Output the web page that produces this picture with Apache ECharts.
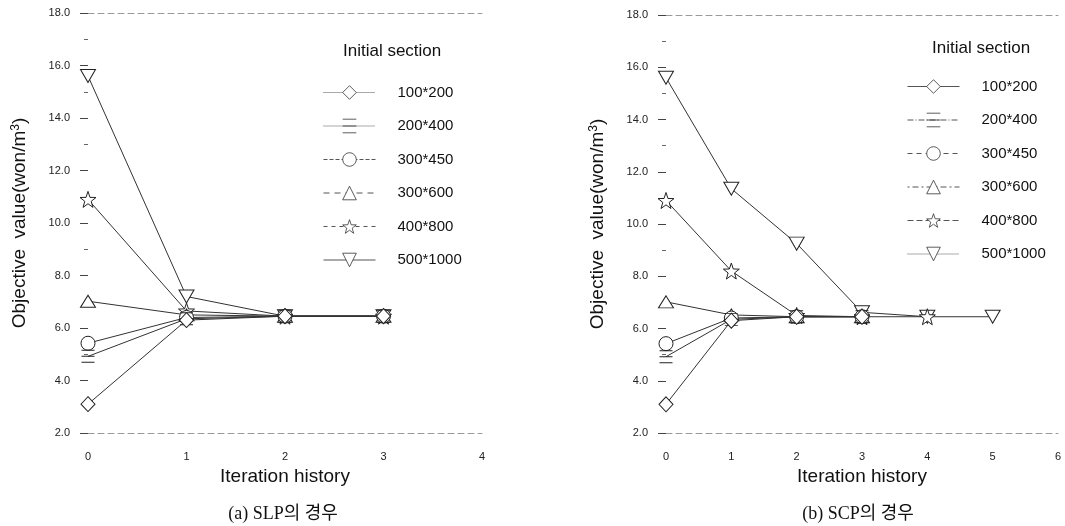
<!DOCTYPE html>
<html>
<head>
<meta charset="utf-8">
<script src="https://cdn.jsdelivr.net/npm/echarts@6/dist/echarts.min.js"></script>
<style>
  html, body { margin: 0; padding: 0; background: #fff; }
  #main { width: 1065px; height: 526px; }
</style>
</head>
<body>
<div id="main"></div>
<script>
// data
var sections = ['100*200', '200*400', '300*450', '300*600', '400*800', '500*1000'];
var yTicks = [2, 4, 6, 8, 10, 12, 14, 16, 18];

// (a) SLP, objective value per iteration
var slp100x200 = [3.1, 6.3, 6.45, 6.45];
var slp200x400 = [4.92, 6.35, 6.45, 6.45];
var slp300x450 = [5.42, 6.4, 6.45, 6.45];
var slp300x600 = [7.02, 6.5, 6.45, 6.45];
var slp400x800 = [10.9, 6.65, 6.45, 6.45];
var slp500x1000 = [15.6, 7.2, 6.45, 6.45];

// (b) SCP
var scp100x200 = [3.1, 6.3, 6.45, 6.45];
var scp200x400 = [4.92, 6.35, 6.45, 6.45];
var scp300x450 = [5.42, 6.4, 6.45, 6.45];
var scp300x600 = [7.02, 6.52, 6.45, 6.45];
var scp400x800 = [10.9, 8.2, 6.5, 6.45, 6.45];
var scp500x1000 = [15.6, 11.35, 9.25, 6.62, 6.45, 6.45];

var slpData = [slp100x200, slp200x400, slp300x450, slp300x600, slp400x800, slp500x1000];
var scpData = [scp100x200, scp200x400, scp300x450, scp300x600, scp400x800, scp500x1000];

(function(){
  var myChart = echarts.init(document.getElementById('main'));

  var starPath = 'path://M50,0 L61.8,33.8 L97.6,34.5 L69,56.2 L79.4,90.5 L50,70 L20.6,90.5 L31,56.2 L2.4,34.5 L38.2,33.8 Z';
  var markers = [
    {symbol: 'diamond', size: [14, 15]},
    {symbol: 'path://M0,0 L10,0 M0,5 L10,5 M0,10 L10,10', size: [13, 12]},
    {symbol: 'circle', size: 14},
    {symbol: 'triangle', size: [15, 12]},
    {symbol: starPath, size: 16},
    {symbol: 'path://M0,0 L10,0 L5,9 Z', size: [15, 13]}
  ];
  // line styles seen in the legends
  var legendLinesA = ['dotted', 'dotted', 'dashed', [6, 5], [4, 4], 'solid'];
  var legendLinesB = ['solid', [6, 2, 1, 2], [5, 4], [2, 3, 6, 3], [6, 3], 'dotted'];

  var axisFont = 'Liberation Sans, Arial, sans-serif';

  function makeSeries(data, xIdx, yIdx) {
    return data.map(function(vals, i){
      return {
        name: sections[i],
        type: 'line',
        xAxisIndex: xIdx,
        yAxisIndex: yIdx,
        data: vals.map(function(v, k){ return [k, v]; }),
        symbol: markers[i].symbol,
        symbolSize: markers[i].size,
        showAllSymbol: true,
        lineStyle: {color: '#333', width: 1},
        itemStyle: {color: '#fff', borderColor: '#222', borderWidth: 1},
        emphasis: {disabled: true},
        z: 10 - i
      };
    });
  }

  function makeLegend(left, top, types) {
    return {
      orient: 'vertical',
      left: left,
      top: top,
      itemWidth: 52,
      itemHeight: 17,
      itemGap: 18.5,
      selectedMode: false,
      textStyle: {fontSize: 15, color: '#111', fontFamily: axisFont, padding: [0, 0, 0, 17]},
      data: sections.map(function(s, i){
        return {
          name: s,
          lineStyle: {type: types[i], color: '#555', width: 1},
          itemStyle: {color: '#fff', borderColor: '#333', borderWidth: 0.8}
        };
      })
    };
  }

  function yAxisOf(gridIndex) {
    return {
      type: 'value',
      gridIndex: gridIndex,
      min: 2,
      max: 18,
      interval: 2,
      name: 'Objective  value(won/m{sup|3})',
      nameLocation: 'middle',
      nameGap: 58,
      nameTextStyle: {
        fontSize: 19, color: '#111', fontFamily: axisFont,
        rich: {sup: {fontSize: 12, verticalAlign: 'top', padding: [0, 0, 8, 0], color: '#111', fontFamily: axisFont}}
      },
      axisLine: {show: false},
      axisTick: {show: true, length: 8, lineStyle: {color: '#444'}},
      minorTick: {show: true, splitNumber: 2, length: 4, lineStyle: {color: '#666'}},
      splitLine: {show: false},
      axisLabel: {
        margin: 18, fontSize: 11, color: '#222', fontFamily: axisFont,
        formatter: function(v){ return v.toFixed(1); }
      }
    };
  }

  function xAxisOf(gridIndex, max) {
    return {
      type: 'value',
      gridIndex: gridIndex,
      min: 0,
      max: max,
      interval: 1,
      name: 'Iteration history',
      nameLocation: 'middle',
      nameGap: 34,
      nameTextStyle: {fontSize: 19, color: '#111', fontFamily: axisFont},
      axisLine: {show: true, lineStyle: {color: '#999', type: [6, 4], width: 1}},
      axisTick: {show: false},
      splitLine: {show: false},
      axisLabel: {margin: 18, fontSize: 11, color: '#222', fontFamily: axisFont}
    };
  }

  function topAxisOf(gridIndex, max) {
    return {
      type: 'value',
      gridIndex: gridIndex,
      position: 'top',
      min: 0,
      max: max,
      axisLine: {show: true, lineStyle: {color: '#999', type: [6, 4], width: 1}},
      axisTick: {show: false},
      axisLabel: {show: false},
      splitLine: {show: false}
    };
  }

  var option = {
    backgroundColor: '#fff',
    animation: false,
    grid: [
      {left: 88, right: 583, top: 13, bottom: 93},
      {left: 666, right: 7, top: 15, bottom: 93}
    ],
    xAxis: [xAxisOf(0, 4), topAxisOf(0, 4), xAxisOf(1, 6), topAxisOf(1, 6)],
    yAxis: [yAxisOf(0), yAxisOf(1)],
    legend: [makeLegend(318, 80, legendLinesA), makeLegend(902, 74, legendLinesB)],
    title: [
      {text: 'Initial section', left: 338, top: 38, textStyle: {fontSize: 17, fontWeight: 'normal', color: '#111', fontFamily: axisFont}},
      {text: 'Initial section', left: 927, top: 35, textStyle: {fontSize: 17, fontWeight: 'normal', color: '#111', fontFamily: axisFont}},
      {text: '(a) SLP의 경우', left: 278, top: 500, textAlign: 'center',
        textStyle: {fontSize: 18, fontWeight: 'normal', color: '#111', fontFamily: 'Liberation Serif, Noto Sans CJK KR, serif'}},
      {text: '(b) SCP의 경우', left: 853, top: 500, textAlign: 'center',
        textStyle: {fontSize: 18, fontWeight: 'normal', color: '#111', fontFamily: 'Liberation Serif, Noto Sans CJK KR, serif'}}
    ],
    series: makeSeries(slpData, 0, 0).concat(makeSeries(scpData, 2, 1))
  };

  myChart.setOption(option);
  window.addEventListener('resize', function(){
    myChart.resize();
  });
})();
</script>
</body>
</html>
